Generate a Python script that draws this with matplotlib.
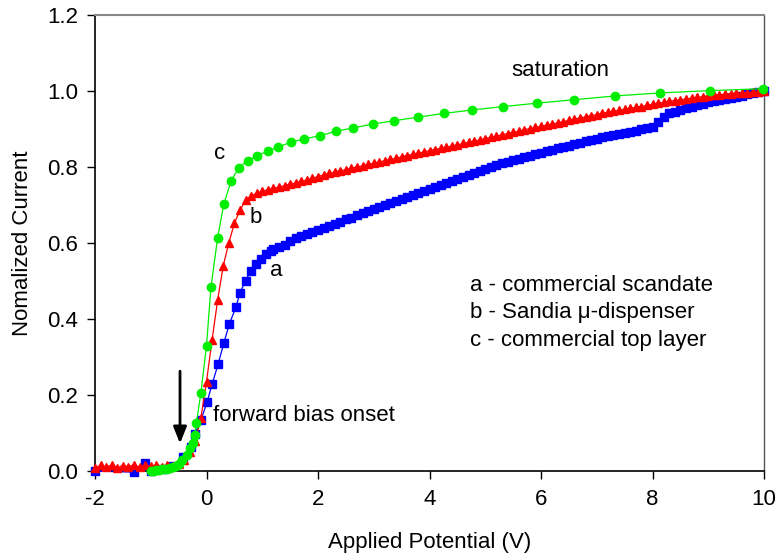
import numpy as np
import matplotlib
matplotlib.use("Agg")
import matplotlib.pyplot as plt

plt.rcParams['font.family'] = ['Liberation Sans', 'DejaVu Sans']

# ---- data ----
# curve a: commercial scandate (blue squares)
a_x_low = [-2.0, -1.3, -1.1, -1.0, -0.8, -0.6, -0.43, -0.28, -0.21, -0.10, 0.01, 0.10,
           0.21, 0.31, 0.41, 0.53, 0.60, 0.70, 0.79, 0.88, 0.97, 1.06, 1.16]
a_y_low = [0.0, -0.003, 0.022, 0.0, 0.004, 0.012, 0.038, 0.062, 0.097, 0.134, 0.181, 0.228,
           0.282, 0.336, 0.387, 0.432, 0.469, 0.500, 0.527, 0.545, 0.558, 0.570, 0.580]
a_x_high = np.round(np.arange(1.2, 10.001, 0.1), 2)
a_y_high = [0.583, 0.589, 0.596, 0.604, 0.612, 0.619, 0.624, 0.629, 0.634, 0.640,
            0.645, 0.651, 0.656, 0.662, 0.667, 0.673, 0.678, 0.684, 0.689, 0.694,
            0.700, 0.705, 0.710, 0.716, 0.721, 0.726, 0.731, 0.737, 0.742, 0.747,
            0.752, 0.757, 0.762, 0.768, 0.773, 0.778, 0.784, 0.789, 0.795, 0.800,
            0.805, 0.810, 0.814, 0.818, 0.822, 0.826, 0.830, 0.834, 0.838, 0.842,
            0.845, 0.849, 0.853, 0.856, 0.860, 0.864, 0.868, 0.871, 0.875, 0.878,
            0.881, 0.884, 0.887, 0.890, 0.893, 0.896, 0.899, 0.902, 0.905, 0.918,
            0.932, 0.941, 0.945, 0.950, 0.954, 0.959, 0.963, 0.967, 0.970, 0.973,
            0.976, 0.979, 0.982, 0.985, 0.988, 0.991, 0.994, 0.997, 1.000]

# curve b: Sandia micro-dispenser (red triangles)
b_x = np.round(np.arange(-2.0, 10.001, 0.1), 2)
b_y = [0.008, 0.015, 0.010, 0.016, 0.009, 0.014, 0.011, 0.017, 0.010, 0.015,
       0.012, 0.016, 0.011, 0.015, 0.013, 0.018,
       0.030, 0.050, 0.080, 0.140, 0.235, 0.345, 0.450, 0.540, 0.600, 0.652,
       0.686, 0.712, 0.724, 0.731, 0.736,
       0.740, 0.744, 0.747, 0.751, 0.755, 0.758, 0.762, 0.766, 0.770, 0.775,
       0.779, 0.783, 0.787, 0.790, 0.793, 0.797, 0.800, 0.803, 0.807, 0.810,
       0.813, 0.817, 0.820, 0.823, 0.827, 0.830, 0.833, 0.836, 0.840, 0.843,
       0.846, 0.849, 0.852, 0.855, 0.858, 0.862, 0.865, 0.868, 0.871, 0.875,
       0.878, 0.881, 0.885, 0.888, 0.891, 0.894, 0.898, 0.901, 0.904, 0.907,
       0.910, 0.913, 0.916, 0.919, 0.923, 0.926, 0.929, 0.932, 0.935, 0.938,
       0.941, 0.944, 0.947, 0.949, 0.952, 0.954, 0.957, 0.959, 0.962, 0.965,
       0.968, 0.970, 0.973, 0.975, 0.977, 0.979, 0.981, 0.983, 0.985, 0.987,
       0.989, 0.990, 0.992, 0.993, 0.994, 0.995, 0.996, 0.997, 0.998, 0.999]

# curve c: commercial top layer (green circles)
c_x = [-1.0, -0.95, -0.9, -0.85, -0.8, -0.75, -0.7, -0.65, -0.6, -0.55, -0.5, -0.44,
       -0.35, -0.29, -0.24, -0.21, -0.18, -0.10, 0.0, 0.08, 0.20, 0.31, 0.44, 0.58,
       0.74, 0.91, 1.10, 1.29, 1.51, 1.75, 2.03, 2.32, 2.63, 2.99, 3.37, 3.79, 4.26,
       4.76, 5.32, 5.93, 6.59, 7.33, 8.14, 9.03, 9.98]
c_y = [0.0, 0.001, 0.002, 0.003, 0.004, 0.005, 0.006, 0.008, 0.010, 0.013, 0.018, 0.029,
       0.042, 0.060, 0.074, 0.095, 0.127, 0.206, 0.330, 0.484, 0.614, 0.702, 0.763, 0.798,
       0.817, 0.830, 0.842, 0.853, 0.865, 0.874, 0.882, 0.894, 0.903, 0.913, 0.922, 0.931,
       0.941, 0.950, 0.959, 0.968, 0.977, 0.987, 0.995, 1.001, 1.006]

x_ticks = [-2, 0, 2, 4, 6, 8, 10]
y_ticks = [0.0, 0.2, 0.4, 0.6, 0.8, 1.0, 1.2]
legend_lines = ["a - commercial scandate", "b - Sandia \u03bc-dispenser", "c - commercial top layer"]

# ---- figure ----
fig = plt.figure(figsize=(7.79, 5.57), dpi=100)
ax = fig.add_axes([95/779, 1 - 471/557, (764 - 95)/779, (471 - 15)/557])

a_x = list(a_x_low) + list(a_x_high)
a_y = list(a_y_low) + list(a_y_high)
ax.plot(a_x, a_y, color='#0000FF', lw=0.9, marker='s', ms=5.8, mec='#0000FF', mfc='#0000FF', zorder=3, clip_on=False)
ax.plot(b_x, b_y, color='#FF0000', lw=0.9, marker='^', ms=6.2, mec='#FF0000', mfc='#FF0000', zorder=4, clip_on=False)
ax.plot(c_x, c_y, color='#00EE00', lw=0.9, marker='o', ms=6.0, mec='#00EE00', mfc='#00EE00', zorder=5, clip_on=False)

ax.set_xlim(-2, 10)
ax.set_ylim(0, 1.2)
ax.set_xticks(x_ticks)
ax.set_xticklabels([str(t) for t in x_ticks])
ax.set_yticks(y_ticks)
ax.set_yticklabels([f"{t:.1f}" for t in y_ticks])
ax.tick_params(direction='out', length=6, width=1, labelsize=16, colors='black')
ax.tick_params(axis='y', pad=6)
ax.tick_params(axis='x', pad=7)

for s in ['left', 'bottom']:
    ax.spines[s].set_color('black')
    ax.spines[s].set_linewidth(1.2)
ax.spines['top'].set_color('#888888')
ax.spines['top'].set_linewidth(1.5)
ax.spines['right'].set_color('#555555')
ax.spines['right'].set_linewidth(1.0)

ax.set_xlabel("Applied Potential (V)", fontsize=16, labelpad=16)
ax.set_ylabel("Nomalized Current", fontsize=16, labelpad=10)

fs = 16
ax.text(5.46, 1.055, "saturation", fontsize=fs, ha='left', va='center')
ax.text(0.24, 0.835, "c", fontsize=fs, ha='center', va='center')
ax.text(0.89, 0.668, "b", fontsize=fs, ha='center', va='center')
ax.text(1.25, 0.528, "a", fontsize=fs, ha='center', va='center')
for i, line in enumerate(legend_lines):
    ax.text(4.73, 0.489 - i * 0.073, line, fontsize=fs, ha='left', va='center')
ax.text(0.12, 0.145, "forward bias onset", fontsize=fs, ha='left', va='center')

ax.annotate("", xy=(-0.475, 0.065), xytext=(-0.475, 0.27),
            arrowprops=dict(arrowstyle='-|>,head_width=0.4,head_length=1.0',
                            color='black', lw=2), zorder=6)

fig.savefig("out.png", dpi=100)
